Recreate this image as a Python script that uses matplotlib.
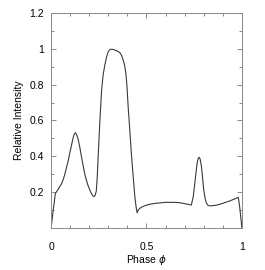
import matplotlib
matplotlib.use("Agg")
import matplotlib.pyplot as plt
from matplotlib.ticker import MultipleLocator, FixedLocator

phase = [0.0, 0.023, 0.035, 0.045, 0.055, 0.063, 0.072, 0.08, 0.09, 0.098,
         0.107, 0.115, 0.121, 0.127, 0.133, 0.141, 0.15, 0.158, 0.167, 0.176,
         0.185, 0.193, 0.202, 0.211, 0.219, 0.225, 0.231, 0.237, 0.242, 0.247,
         0.256, 0.265, 0.273, 0.282, 0.291, 0.3, 0.306, 0.312, 0.323, 0.335,
         0.348, 0.361, 0.37, 0.378, 0.386, 0.392, 0.398, 0.404, 0.413, 0.422,
         0.431, 0.439, 0.446, 0.451, 0.457, 0.465, 0.478, 0.491, 0.514, 0.55,
         0.6, 0.65, 0.674, 0.709, 0.735, 0.745, 0.753, 0.765, 0.771, 0.775,
         0.781, 0.788, 0.8, 0.807, 0.814, 0.822, 0.831, 0.866, 0.901, 0.936,
         0.971, 0.981, 0.988, 1.0]
intensity = [0.0, 0.194, 0.212, 0.23, 0.247, 0.268, 0.298, 0.333, 0.375, 0.417,
             0.46, 0.5, 0.522, 0.532, 0.524, 0.5, 0.455, 0.407, 0.355, 0.305,
             0.268, 0.24, 0.215, 0.194, 0.18, 0.175, 0.182, 0.205, 0.28, 0.4,
             0.6, 0.77, 0.855, 0.91, 0.955, 0.984, 0.993, 0.997, 0.997, 0.993,
             0.987, 0.978, 0.962, 0.937, 0.905, 0.863, 0.79, 0.677, 0.54, 0.398,
             0.28, 0.175, 0.115, 0.085, 0.1, 0.11, 0.118, 0.124, 0.132, 0.138,
             0.143, 0.143, 0.141, 0.134, 0.128, 0.175, 0.249, 0.361, 0.388, 0.395,
             0.385, 0.342, 0.212, 0.165, 0.138, 0.127, 0.123, 0.127, 0.138, 0.151,
             0.166, 0.171, 0.119, 0.0]

x_ticks = [0, 0.5, 1]
x_ticklabels = ["0", "0.5", "1"]
y_ticks = [0.2, 0.4, 0.6, 0.8, 1.0, 1.2]
y_ticklabels = ["0.2", "0.4", "0.6", "0.8", "1", "1.2"]

plt.rcParams['font.family'] = ['Liberation Sans', 'DejaVu Sans']

fig = plt.figure(figsize=(2.65, 2.70), dpi=100)
ax = fig.add_axes([0.1925, 0.1556, 0.7205, 0.7964])
ax.plot(phase, intensity, color='#3a3a3a', lw=0.8)
ax.set_xlim(0, 1)
ax.set_ylim(0, 1.2)
ax.xaxis.set_major_locator(FixedLocator(x_ticks))
ax.set_xticklabels(x_ticklabels)
ax.xaxis.set_minor_locator(MultipleLocator(0.1))
ax.yaxis.set_major_locator(FixedLocator(y_ticks))
ax.set_yticklabels(y_ticklabels)
ax.yaxis.set_minor_locator(MultipleLocator(0.1))
ax.tick_params(which='both', direction='in', top=True, right=True,
               color='#777777', width=0.6, labelsize=7.5, colors='black')
ax.tick_params(which='major', length=3.5)
ax.tick_params(which='minor', length=2)
ax.tick_params(axis='y', which='both', pad=5)
ax.tick_params(axis='x', which='both', pad=10)
for s in ax.spines.values():
    s.set_color('#888888')
    s.set_linewidth(0.7)
ax.set_xlabel("Phase $\\phi$", fontsize=7.5, labelpad=1)
ax.set_ylabel("Relative Intensity", fontsize=7.5, labelpad=4)
fig.savefig("out.png", dpi=100)
